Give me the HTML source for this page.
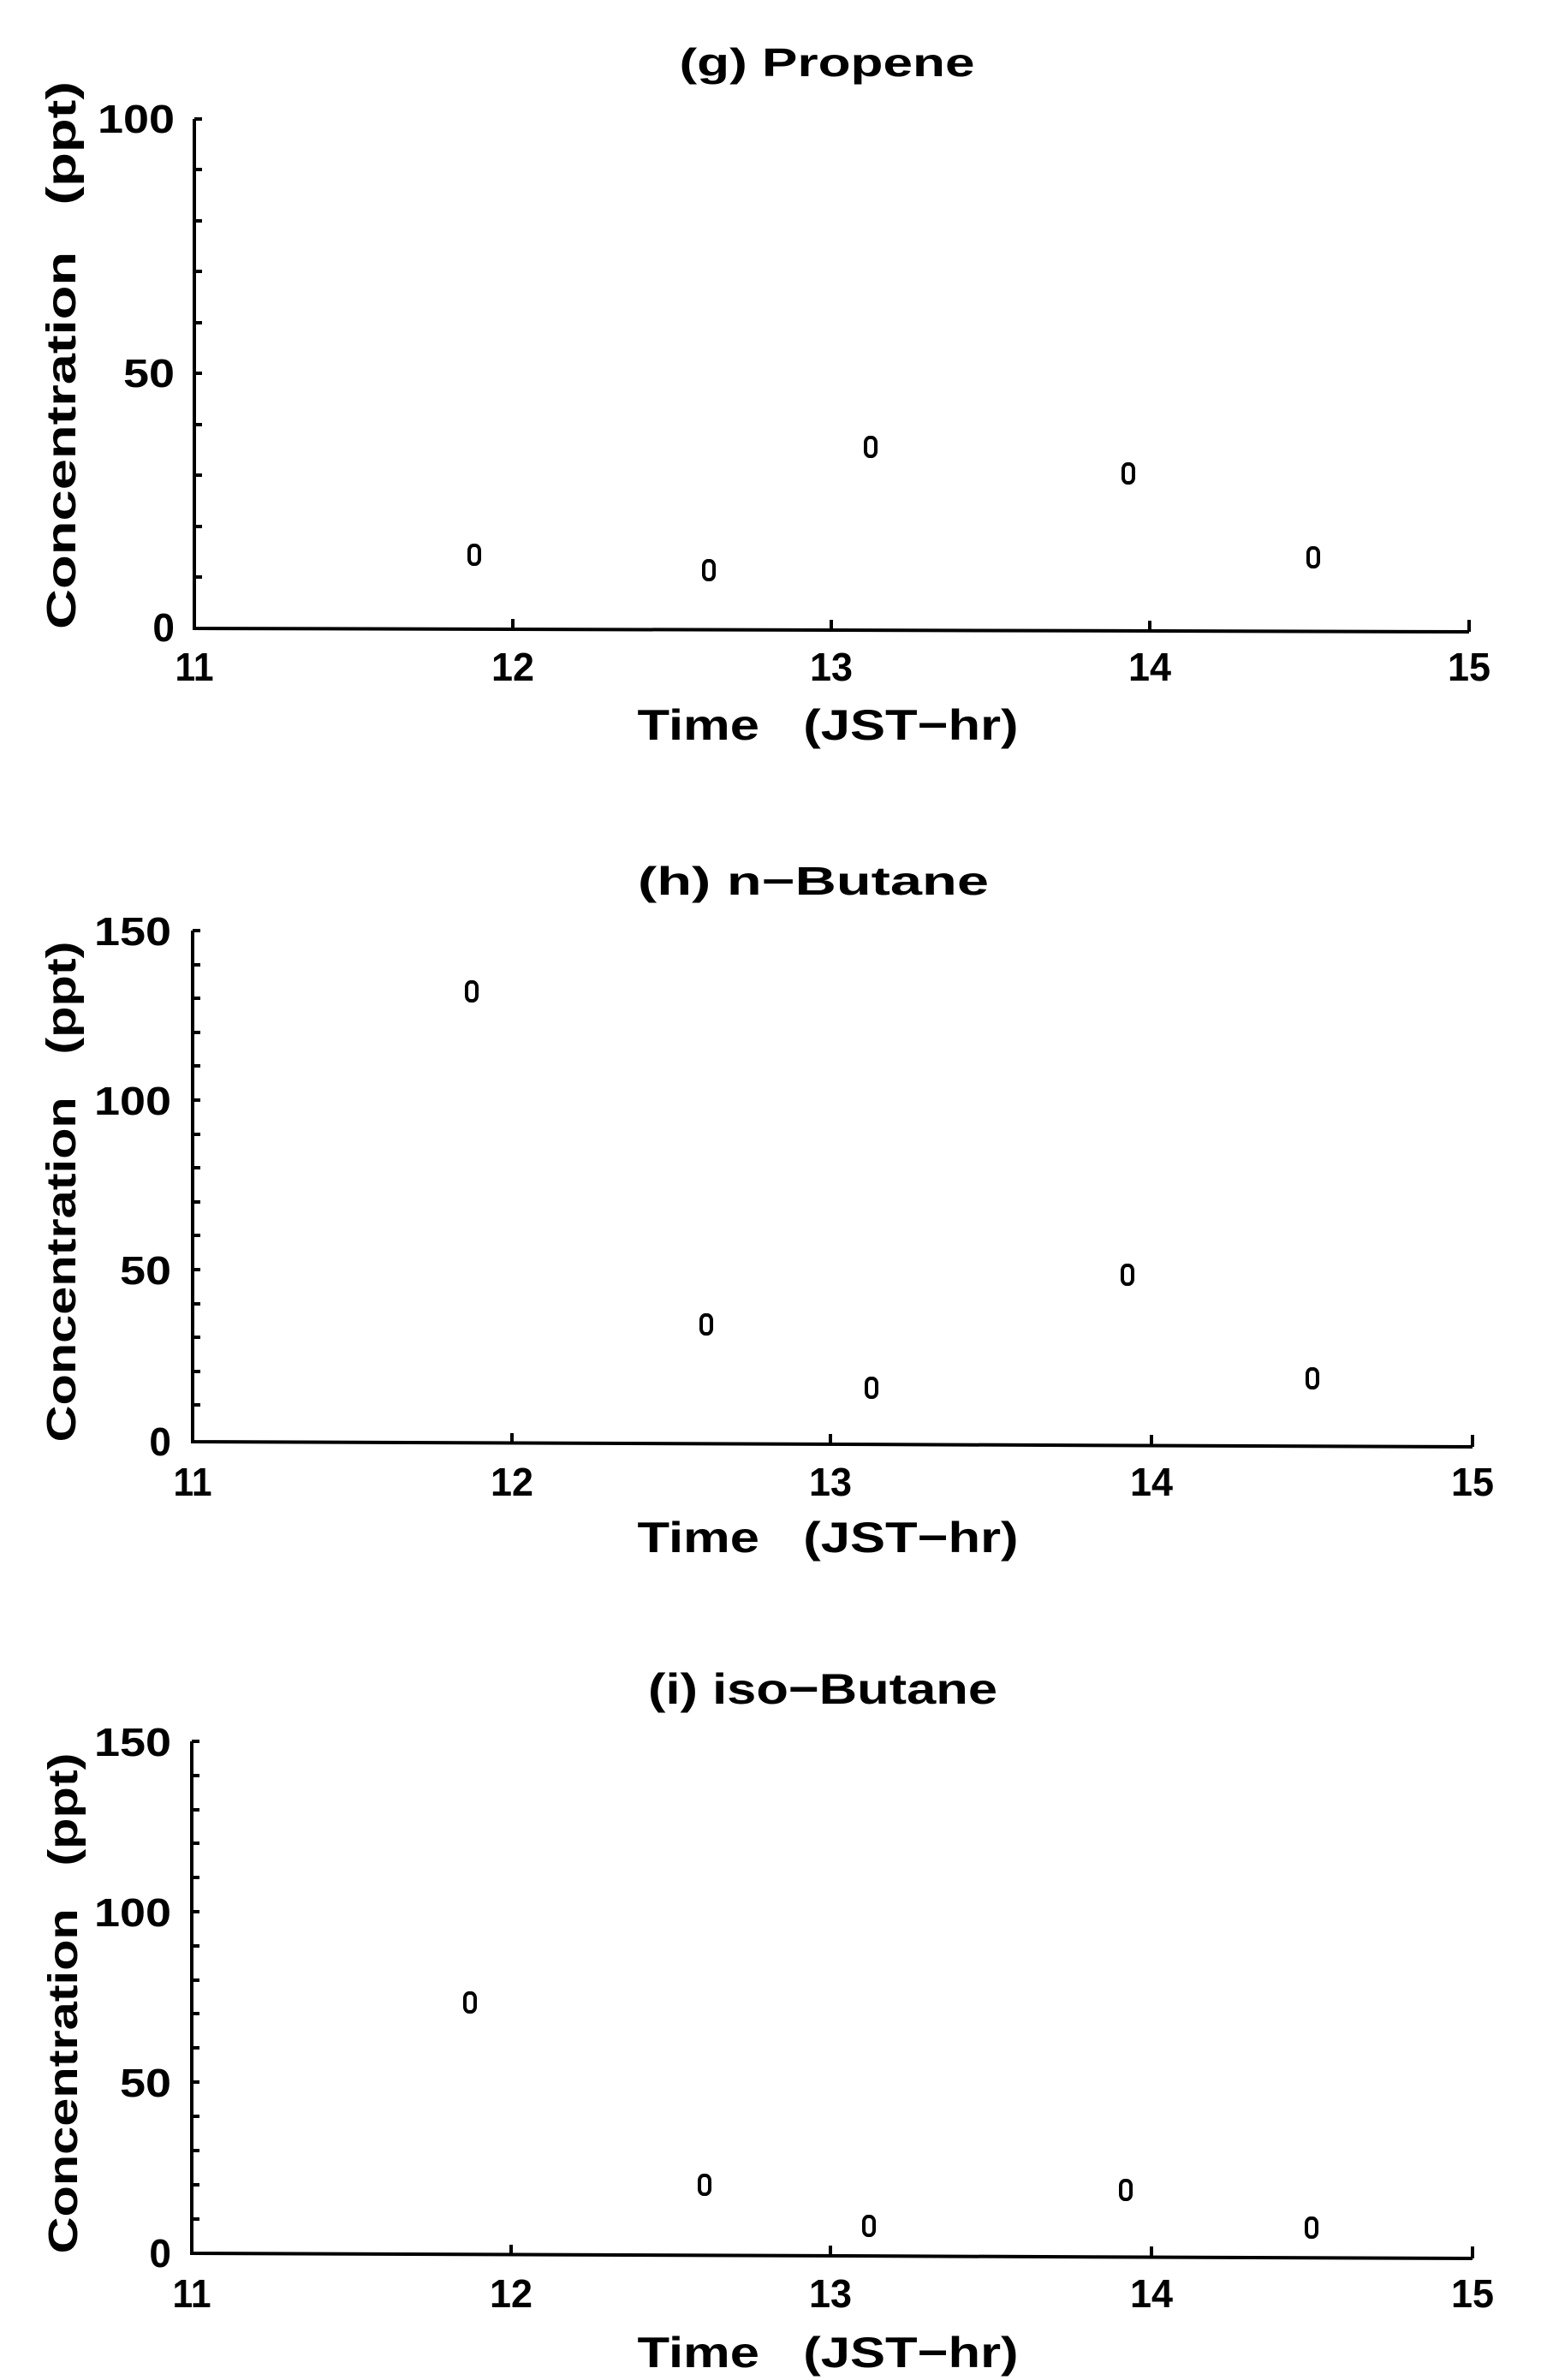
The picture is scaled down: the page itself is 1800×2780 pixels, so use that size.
<!DOCTYPE html>
<html><head><meta charset="utf-8"><style>
html,body{margin:0;padding:0;background:#fff;}
svg{display:block;}
text{font-family:"Liberation Sans",sans-serif;fill:#000;font-weight:bold;}
</style></head><body>
<svg width="1800" height="2780" viewBox="0 0 1800 2780" xmlns="http://www.w3.org/2000/svg">
<defs>
<g id="mk"><rect x="-6" y="-11" width="12" height="22" rx="5" ry="6" fill="none" stroke="#000" stroke-width="4"/></g>
</defs>

<!-- Panel g -->
<g stroke="#000" stroke-width="4" fill="none">
<path d="M227 139 L227 734 L1716 738"/>
<path d="M227 139h9M227 198h9M227 258h9M227 317h9M227 377h9M227 436h9M227 496h9M227 555h9M227 615h9M227 674h9"/>
<path d="M599 735v-12M971 736v-12M1343 737v-12M1716 738v-14"/>
</g>
<text x="966" y="89" font-size="46" text-anchor="middle" textLength="345" lengthAdjust="spacingAndGlyphs">(g) Propene</text>
<text x="204" y="155" font-size="46" text-anchor="end" textLength="90" lengthAdjust="spacingAndGlyphs">100</text>
<text x="204" y="452" font-size="46" text-anchor="end" textLength="60" lengthAdjust="spacingAndGlyphs">50</text>
<text x="204" y="749" font-size="46" text-anchor="end">0</text>
<text x="227" y="795" font-size="46" text-anchor="middle" textLength="45" lengthAdjust="spacingAndGlyphs">11</text>
<text x="599" y="795" font-size="46" text-anchor="middle" textLength="50" lengthAdjust="spacingAndGlyphs">12</text>
<text x="971" y="795" font-size="46" text-anchor="middle" textLength="50" lengthAdjust="spacingAndGlyphs">13</text>
<text x="1343" y="795" font-size="46" text-anchor="middle" textLength="50" lengthAdjust="spacingAndGlyphs">14</text>
<text x="1716" y="795" font-size="46" text-anchor="middle" textLength="50" lengthAdjust="spacingAndGlyphs">15</text>
<text x="967" y="864" font-size="50" text-anchor="middle" textLength="445" lengthAdjust="spacingAndGlyphs" xml:space="preserve">Time   (JST−hr)</text>
<text transform="translate(88,415) rotate(-90)" font-size="48" text-anchor="middle" textLength="640" lengthAdjust="spacingAndGlyphs" xml:space="preserve">Concentration   (ppt)</text>
<use href="#mk" x="554" y="648"/><use href="#mk" x="828" y="666"/><use href="#mk" x="1017" y="522"/><use href="#mk" x="1318" y="553"/><use href="#mk" x="1534" y="651"/>

<!-- Panel h -->
<g stroke="#000" stroke-width="4" fill="none">
<path d="M225 1087 L225 1684 L1720 1690"/>
<path d="M225 1087h9M225 1127h9M225 1166h9M225 1206h9M225 1245h9M225 1285h9M225 1325h9M225 1364h9M225 1404h9M225 1443h9M225 1483h9M225 1523h9M225 1562h9M225 1602h9M225 1641h9"/>
<path d="M598 1686v-12M970 1687v-12M1345 1688v-12M1720 1690v-14"/>
</g>
<text x="950" y="1045" font-size="46" text-anchor="middle" textLength="410" lengthAdjust="spacingAndGlyphs">(h) n−Butane</text>
<text x="200" y="1104" font-size="46" text-anchor="end" textLength="90" lengthAdjust="spacingAndGlyphs">150</text>
<text x="200" y="1302" font-size="46" text-anchor="end" textLength="90" lengthAdjust="spacingAndGlyphs">100</text>
<text x="200" y="1500" font-size="46" text-anchor="end" textLength="60" lengthAdjust="spacingAndGlyphs">50</text>
<text x="200" y="1700" font-size="46" text-anchor="end">0</text>
<text x="225" y="1747" font-size="46" text-anchor="middle" textLength="45" lengthAdjust="spacingAndGlyphs">11</text>
<text x="598" y="1747" font-size="46" text-anchor="middle" textLength="50" lengthAdjust="spacingAndGlyphs">12</text>
<text x="970" y="1747" font-size="46" text-anchor="middle" textLength="50" lengthAdjust="spacingAndGlyphs">13</text>
<text x="1345" y="1747" font-size="46" text-anchor="middle" textLength="50" lengthAdjust="spacingAndGlyphs">14</text>
<text x="1720" y="1747" font-size="46" text-anchor="middle" textLength="50" lengthAdjust="spacingAndGlyphs">15</text>
<text x="967" y="1813" font-size="50" text-anchor="middle" textLength="445" lengthAdjust="spacingAndGlyphs" xml:space="preserve">Time   (JST−hr)</text>
<text transform="translate(88,1392) rotate(-90)" font-size="48" text-anchor="middle" textLength="585" lengthAdjust="spacingAndGlyphs" xml:space="preserve">Concentration   (ppt)</text>
<use href="#mk" x="551" y="1158"/><use href="#mk" x="825" y="1547"/><use href="#mk" x="1018" y="1621"/><use href="#mk" x="1317" y="1489"/><use href="#mk" x="1533" y="1610"/>

<!-- Panel i -->
<g stroke="#000" stroke-width="4" fill="none">
<path d="M224 2034 L224 2632 L1720 2638"/>
<path d="M224 2034h9M224 2074h9M224 2114h9M224 2153h9M224 2193h9M224 2233h9M224 2273h9M224 2313h9M224 2352h9M224 2392h9M224 2432h9M224 2472h9M224 2512h9M224 2552h9M224 2592h9"/>
<path d="M597 2634v-12M970 2635v-12M1345 2636v-12M1720 2638v-14"/>
</g>
<text x="961" y="1990" font-size="50" text-anchor="middle" textLength="408" lengthAdjust="spacingAndGlyphs">(i) iso−Butane</text>
<text x="200" y="2051" font-size="46" text-anchor="end" textLength="90" lengthAdjust="spacingAndGlyphs">150</text>
<text x="200" y="2250" font-size="46" text-anchor="end" textLength="90" lengthAdjust="spacingAndGlyphs">100</text>
<text x="200" y="2449" font-size="46" text-anchor="end" textLength="60" lengthAdjust="spacingAndGlyphs">50</text>
<text x="200" y="2648" font-size="46" text-anchor="end">0</text>
<text x="224" y="2695" font-size="46" text-anchor="middle" textLength="45" lengthAdjust="spacingAndGlyphs">11</text>
<text x="597" y="2695" font-size="46" text-anchor="middle" textLength="50" lengthAdjust="spacingAndGlyphs">12</text>
<text x="970" y="2695" font-size="46" text-anchor="middle" textLength="50" lengthAdjust="spacingAndGlyphs">13</text>
<text x="1345" y="2695" font-size="46" text-anchor="middle" textLength="50" lengthAdjust="spacingAndGlyphs">14</text>
<text x="1720" y="2695" font-size="46" text-anchor="middle" textLength="50" lengthAdjust="spacingAndGlyphs">15</text>
<text x="967" y="2765" font-size="50" text-anchor="middle" textLength="445" lengthAdjust="spacingAndGlyphs" xml:space="preserve">Time   (JST−hr)</text>
<text transform="translate(90,2340) rotate(-90)" font-size="48" text-anchor="middle" textLength="585" lengthAdjust="spacingAndGlyphs" xml:space="preserve">Concentration   (ppt)</text>
<use href="#mk" x="549" y="2339"/><use href="#mk" x="823" y="2552"/><use href="#mk" x="1015" y="2600"/><use href="#mk" x="1315" y="2558"/><use href="#mk" x="1532" y="2602"/>
</svg>
</body></html>
